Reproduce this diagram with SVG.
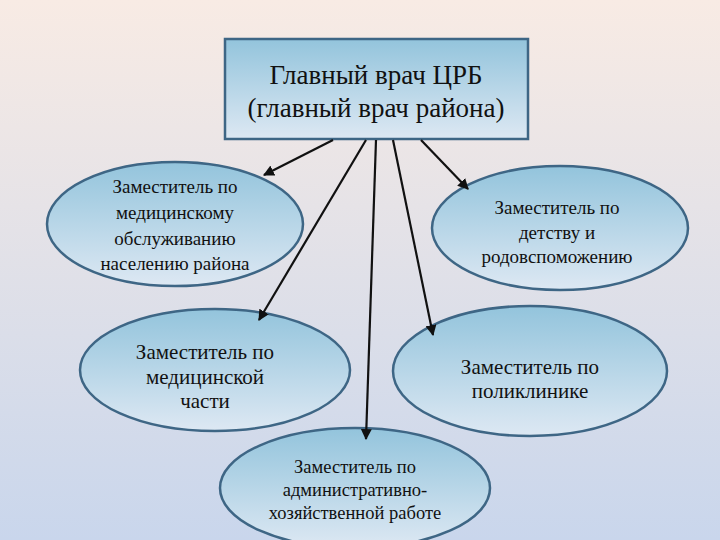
<svg xmlns="http://www.w3.org/2000/svg" width="720" height="540" viewBox="0 0 720 540">
<defs>
<linearGradient id="bg" x1="0" y1="0" x2="0" y2="1"><stop offset="0" stop-color="#f8ebe4"/><stop offset="1" stop-color="#c9d6ec"/></linearGradient>
<linearGradient id="nf" x1="0" y1="0" x2="0" y2="1"><stop offset="0" stop-color="#93c4dc"/><stop offset="1" stop-color="#dde8f3"/></linearGradient>
<marker id="ah" viewBox="0 0 10 10" refX="9" refY="5" markerWidth="5" markerHeight="5" orient="auto"><path d="M0,0L10,5L0,10z" fill="#111"/></marker>
<style>
.n{fill:url(#nf);stroke:#3e6685;stroke-width:2.5}
.t{fill:#111;text-anchor:middle}
.c line{stroke:#111;stroke-width:2.2;marker-end:url(#ah)}
</style>
</defs>
<rect width="720" height="540" fill="url(#bg)"/>
<g font-family="Liberation Serif, Times New Roman, DejaVu Serif, serif">
<g id="chief"><rect class="n" x="225" y="39" width="303" height="100"/>
<text class="t" font-size="27" x="376" y="84">Главный врач ЦРБ</text>
<text class="t" font-size="27" x="376" y="117">(главный врач района)</text></g>
<g id="n1" font-size="19"><ellipse class="n" cx="175" cy="224" rx="128" ry="62"/>
<text class="t" x="175" y="193">Заместитель по</text><text class="t" x="175" y="219">медицинскому</text><text class="t" x="175" y="245">обслуживанию</text><text class="t" x="175" y="270">населению района</text></g>
<g id="n2" font-size="19"><ellipse class="n" cx="560" cy="228" rx="128" ry="62"/>
<text class="t" x="557" y="214">Заместитель  по</text><text class="t" x="557" y="239">детству и</text><text class="t" x="557" y="263">родовспоможению</text></g>
<g id="n3" font-size="21"><ellipse class="n" cx="215" cy="370" rx="135" ry="61"/>
<text class="t" x="205" y="359">Заместитель по</text><text class="t" x="205" y="384">медицинской</text><text class="t" x="205" y="408">части</text></g>
<g id="n4" font-size="21"><ellipse class="n" cx="530" cy="371" rx="137" ry="65"/>
<text class="t" x="530" y="374">Заместитель по</text><text class="t" x="530" y="398">поликлинике</text></g>
<g id="n5" font-size="18.5"><ellipse class="n" cx="355" cy="488" rx="135" ry="60"/>
<text class="t" x="355" y="473">Заместитель по</text><text class="t" x="355" y="496">административно-</text><text class="t" x="355" y="519">хозяйственной работе</text></g>
</g>
<g class="c" id="connectors">
<line x1="333" y1="140" x2="264" y2="175"/>
<line x1="366" y1="140" x2="259" y2="320"/>
<line x1="376" y1="140" x2="366" y2="439"/>
<line x1="393" y1="140" x2="433" y2="335"/>
<line x1="421" y1="140" x2="468" y2="189"/>
</g>
</svg>
